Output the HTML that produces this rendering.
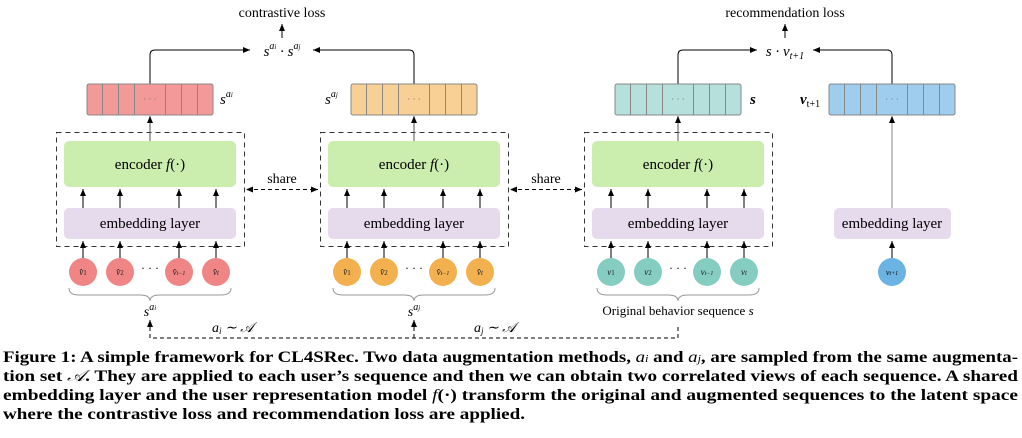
<!DOCTYPE html>
<html><head><meta charset="utf-8"><style>
html,body{margin:0;padding:0;background:#fff;}
svg{display:block;}
text,tspan{font-family:"Liberation Serif","Noto Serif CJK SC",serif;}
</style></head><body>
<svg width="1022" height="438" viewBox="0 0 1022 438" xmlns="http://www.w3.org/2000/svg" font-family="Liberation Serif, serif">
<defs>
<marker id="ah" markerWidth="8" markerHeight="8" refX="7" refY="4" orient="auto" markerUnits="userSpaceOnUse">
<path d="M0,1 L7,4 L0,7 Z" fill="#000"/></marker>
<marker id="ahs" markerWidth="8" markerHeight="8" refX="1" refY="4" orient="auto" markerUnits="userSpaceOnUse">
<path d="M7,1 L0,4 L7,7 Z" fill="#000"/></marker>
</defs>

<!-- top labels -->
<text x="282" y="17" font-size="14" text-anchor="middle">contrastive loss</text>
<line x1="282" y1="38" x2="282" y2="24" stroke="#000" marker-end="url(#ah)"/>
<text x="282" y="56" font-size="15" text-anchor="middle" font-style="italic">s<tspan font-size="10" dy="-7">a<tspan font-size="7">i</tspan></tspan><tspan dy="7"> · s</tspan><tspan font-size="10" dy="-7">a<tspan font-size="7">j</tspan></tspan></text>
<path d="M150,84 V55 Q150,50 155,50 H250" fill="none" stroke="#000" marker-end="url(#ah)"/>
<path d="M414,84 V55 Q414,50 409,50 H313" fill="none" stroke="#000" marker-end="url(#ah)"/>

<text x="785" y="17" font-size="14" text-anchor="middle">recommendation loss</text>
<line x1="785" y1="38" x2="785" y2="24" stroke="#000" marker-end="url(#ah)"/>
<text x="785" y="56" font-size="15" text-anchor="middle" font-style="italic">s · v<tspan font-size="10" dy="3">t+1</tspan></text>
<path d="M678,84 V55 Q678,50 683,50 H757" fill="none" stroke="#000" marker-end="url(#ah)"/>
<path d="M892,84 V55 Q892,50 887,50 H813" fill="none" stroke="#000" marker-end="url(#ah)"/>

<!-- vectors -->
<g transform="translate(87,84)" fill="#f4999a">
<rect x="0" y="0" width="126" height="31" rx="2" stroke="#888"/>
<path d="M15.5,0V31M31.5,0V31M47.5,0V31M78.5,0V31M94.5,0V31M110.5,0V31" stroke="#888"/>
<text x="63" y="18" font-size="9" text-anchor="middle" fill="#777">· · ·</text></g>
<g transform="translate(351,84)" fill="#f8d095">
<rect x="0" y="0" width="126" height="31" rx="2" stroke="#888"/>
<path d="M15.5,0V31M31.5,0V31M47.5,0V31M78.5,0V31M94.5,0V31M110.5,0V31" stroke="#888"/>
<text x="63" y="18" font-size="9" text-anchor="middle" fill="#777">· · ·</text></g>
<g transform="translate(615,84)" fill="#b5e0db">
<rect x="0" y="0" width="126" height="31" rx="2" stroke="#888"/>
<path d="M15.5,0V31M31.5,0V31M47.5,0V31M78.5,0V31M94.5,0V31M110.5,0V31" stroke="#888"/>
<text x="63" y="18" font-size="9" text-anchor="middle" fill="#777">· · ·</text></g>
<g transform="translate(829,84)" fill="#9ecdee">
<rect x="0" y="0" width="126" height="31" rx="2" stroke="#888"/>
<path d="M15.5,0V31M31.5,0V31M47.5,0V31M78.5,0V31M94.5,0V31M110.5,0V31" stroke="#888"/>
<text x="63" y="18" font-size="9" text-anchor="middle" fill="#777">· · ·</text></g>

<text x="220" y="104" font-size="15" font-style="italic">s<tspan font-size="10" dy="-7">a<tspan font-size="7">i</tspan></tspan></text>
<text x="325" y="104" font-size="15" font-style="italic">s<tspan font-size="10" dy="-7">a<tspan font-size="7">j</tspan></tspan></text>
<text x="750" y="104" font-size="15" font-style="italic" font-weight="bold">s</text>
<text x="800" y="104" font-size="15" font-style="italic" font-weight="bold">v<tspan font-size="10" dy="3" font-weight="normal" font-style="normal">t+1</tspan></text>
<line x1="892" y1="208" x2="892" y2="116" stroke="#888" marker-end="url(#ah)"/>
<rect x="834" y="208" width="117" height="31" rx="5" fill="#e6daed"/>
<text x="892" y="228" font-size="15" text-anchor="middle">embedding layer</text>
<line x1="892" y1="258" x2="892" y2="241" stroke="#000" marker-end="url(#ah)"/>
<circle cx="892" cy="272" r="14" fill="#6bb3e3"/>
<text x="892" y="275" font-size="8" text-anchor="middle" font-style="italic">v<tspan font-size="6">t+1</tspan></text>

<!-- panels -->
<g>
<rect x="56.5" y="132.5" width="188" height="114" fill="none" stroke="#333" stroke-dasharray="5,4"/>
<line x1="150" y1="141" x2="150" y2="116" stroke="#555" marker-end="url(#ah)"/>
<rect x="64" y="141" width="172" height="46" rx="5" fill="#cbeeaf"/>
<text x="150" y="169" font-size="15" text-anchor="middle">encoder  <tspan font-style="italic">f</tspan>(·)</text>
<rect x="64" y="208" width="172" height="31" rx="5" fill="#e6daed"/>
<text x="150" y="228" font-size="15" text-anchor="middle">embedding layer</text>
<g stroke="#000" marker-end="url(#ah)">
<line x1="83" y1="208" x2="83" y2="189"/><line x1="120" y1="208" x2="120" y2="189"/><line x1="179" y1="208" x2="179" y2="189"/><line x1="216" y1="208" x2="216" y2="189"/>
<line x1="83" y1="258" x2="83" y2="241"/><line x1="120" y1="258" x2="120" y2="241"/><line x1="179" y1="258" x2="179" y2="241"/><line x1="216" y1="258" x2="216" y2="241"/>
</g></g>
<g transform="translate(264,0)">
<rect x="56.5" y="132.5" width="188" height="114" fill="none" stroke="#333" stroke-dasharray="5,4"/>
<line x1="150" y1="141" x2="150" y2="116" stroke="#555" marker-end="url(#ah)"/>
<rect x="64" y="141" width="172" height="46" rx="5" fill="#cbeeaf"/>
<text x="150" y="169" font-size="15" text-anchor="middle">encoder  <tspan font-style="italic">f</tspan>(·)</text>
<rect x="64" y="208" width="172" height="31" rx="5" fill="#e6daed"/>
<text x="150" y="228" font-size="15" text-anchor="middle">embedding layer</text>
<g stroke="#000" marker-end="url(#ah)">
<line x1="83" y1="208" x2="83" y2="189"/><line x1="120" y1="208" x2="120" y2="189"/><line x1="179" y1="208" x2="179" y2="189"/><line x1="216" y1="208" x2="216" y2="189"/>
<line x1="83" y1="258" x2="83" y2="241"/><line x1="120" y1="258" x2="120" y2="241"/><line x1="179" y1="258" x2="179" y2="241"/><line x1="216" y1="258" x2="216" y2="241"/>
</g></g>
<g transform="translate(528,0)">
<rect x="56.5" y="132.5" width="188" height="114" fill="none" stroke="#333" stroke-dasharray="5,4"/>
<line x1="150" y1="141" x2="150" y2="116" stroke="#555" marker-end="url(#ah)"/>
<rect x="64" y="141" width="172" height="46" rx="5" fill="#cbeeaf"/>
<text x="150" y="169" font-size="15" text-anchor="middle">encoder  <tspan font-style="italic">f</tspan>(·)</text>
<rect x="64" y="208" width="172" height="31" rx="5" fill="#e6daed"/>
<text x="150" y="228" font-size="15" text-anchor="middle">embedding layer</text>
<g stroke="#000" marker-end="url(#ah)">
<line x1="83" y1="208" x2="83" y2="189"/><line x1="120" y1="208" x2="120" y2="189"/><line x1="179" y1="208" x2="179" y2="189"/><line x1="216" y1="208" x2="216" y2="189"/>
<line x1="83" y1="258" x2="83" y2="241"/><line x1="120" y1="258" x2="120" y2="241"/><line x1="179" y1="258" x2="179" y2="241"/><line x1="216" y1="258" x2="216" y2="241"/>
</g></g>

<!-- circles -->
<g font-size="9" font-style="italic" text-anchor="middle">
<g fill="#f08585"><circle cx="83" cy="272" r="14"/><circle cx="120" cy="272" r="14"/><circle cx="179" cy="272" r="14"/><circle cx="216" cy="272" r="14"/></g>
<g fill="#f3b04f"><circle cx="347" cy="272" r="14"/><circle cx="384" cy="272" r="14"/><circle cx="443" cy="272" r="14"/><circle cx="480" cy="272" r="14"/></g>
<g fill="#86cdc1"><circle cx="611" cy="272" r="14"/><circle cx="648" cy="272" r="14"/><circle cx="707" cy="272" r="14"/><circle cx="744" cy="272" r="14"/></g>
<g fill="#222">
<text x="83" y="275">v̂<tspan font-size="7" font-style="normal">1</tspan></text><text x="120" y="275">v̂<tspan font-size="7" font-style="normal">2</tspan></text><text x="179" y="275">v̂<tspan font-size="6">t−1</tspan></text><text x="216" y="275">v̂<tspan font-size="7">t</tspan></text>
<text x="347" y="275">v̂<tspan font-size="7" font-style="normal">1</tspan></text><text x="384" y="275">v̂<tspan font-size="7" font-style="normal">2</tspan></text><text x="443" y="275">v̂<tspan font-size="6">t−1</tspan></text><text x="480" y="275">v̂<tspan font-size="7">t</tspan></text>
<text x="611" y="275">v<tspan font-size="7" font-style="normal">1</tspan></text><text x="648" y="275">v<tspan font-size="7" font-style="normal">2</tspan></text><text x="707" y="275">v<tspan font-size="6">t−1</tspan></text><text x="744" y="275">v<tspan font-size="7">t</tspan></text>
</g>
</g>
<g font-size="12" text-anchor="middle"><text x="150" y="272">· · ·</text><text x="414" y="272">· · ·</text><text x="678" y="272">· · ·</text></g>

<!-- share -->
<text x="282" y="183" font-size="14" text-anchor="middle">share</text>
<line x1="247" y1="189.5" x2="318" y2="189.5" stroke="#000" stroke-dasharray="4,3" marker-start="url(#ahs)" marker-end="url(#ah)"/>
<text x="546" y="183" font-size="14" text-anchor="middle">share</text>
<line x1="511" y1="189.5" x2="582" y2="189.5" stroke="#000" stroke-dasharray="4,3" marker-start="url(#ahs)" marker-end="url(#ah)"/>

<!-- braces -->
<g fill="none" stroke="#999" stroke-width="1">
<path d="M69,288 Q69,295 79,295 H140 Q150,295 150,301 Q150,295 160,295 H221 Q231,295 231,288"/>
<path d="M333,288 Q333,295 343,295 H404 Q414,295 414,301 Q414,295 424,295 H485 Q495,295 495,288"/>
<path d="M597,288 Q597,295 607,295 H668 Q678,295 678,301 Q678,295 688,295 H749 Q759,295 759,288"/>
</g>
<text x="150" y="316" font-size="14" text-anchor="middle" font-style="italic">s<tspan font-size="10" dy="-6">a<tspan font-size="7">i</tspan></tspan></text>
<text x="414" y="316" font-size="14" text-anchor="middle" font-style="italic">s<tspan font-size="10" dy="-6">a<tspan font-size="7">j</tspan></tspan></text>
<text x="678" y="315" font-size="13" text-anchor="middle">Original behavior sequence <tspan font-style="italic">s</tspan></text>

<!-- sampling -->
<path d="M150,320 V338 H678 V324" fill="none" stroke="#000" stroke-dasharray="4,3"/>
<line x1="150" y1="330" x2="150" y2="320" stroke="#000" marker-end="url(#ah)"/>
<line x1="414" y1="338" x2="414" y2="320" stroke="#000" stroke-dasharray="4,3" marker-end="url(#ah)"/>
<text x="212" y="332" font-size="14" font-style="italic">a<tspan font-size="9" dy="2">i</tspan><tspan dy="-2"> ∼ 𝒜</tspan></text>
<text x="474" y="332" font-size="14" font-style="italic">a<tspan font-size="9" dy="2">j</tspan><tspan dy="-2"> ∼ 𝒜</tspan></text>

<!-- caption -->
<g font-size="16" font-weight="bold">
<text x="3" y="362" textLength="1015" lengthAdjust="spacingAndGlyphs">Figure 1: A simple framework for CL4SRec. Two data augmentation methods, <tspan font-style="italic" font-weight="normal">a<tspan font-size="10">i</tspan></tspan> and <tspan font-style="italic" font-weight="normal">a<tspan font-size="10">j</tspan></tspan>, are sampled from the same augmenta-</text>
<text x="3" y="381" textLength="1015" lengthAdjust="spacingAndGlyphs">tion set <tspan font-style="italic" font-weight="normal">𝒜</tspan>. They are applied to each user’s sequence and then we can obtain two correlated views of each sequence. A shared</text>
<text x="3" y="400" textLength="1015" lengthAdjust="spacingAndGlyphs">embedding layer and the user representation model <tspan font-style="italic" font-weight="normal">f</tspan>(·) transform the original and augmented sequences to the latent space</text>
<text x="3" y="419" textLength="522" lengthAdjust="spacingAndGlyphs">where the contrastive loss and recommendation loss are applied.</text>
</g>
</svg>
</body></html>
